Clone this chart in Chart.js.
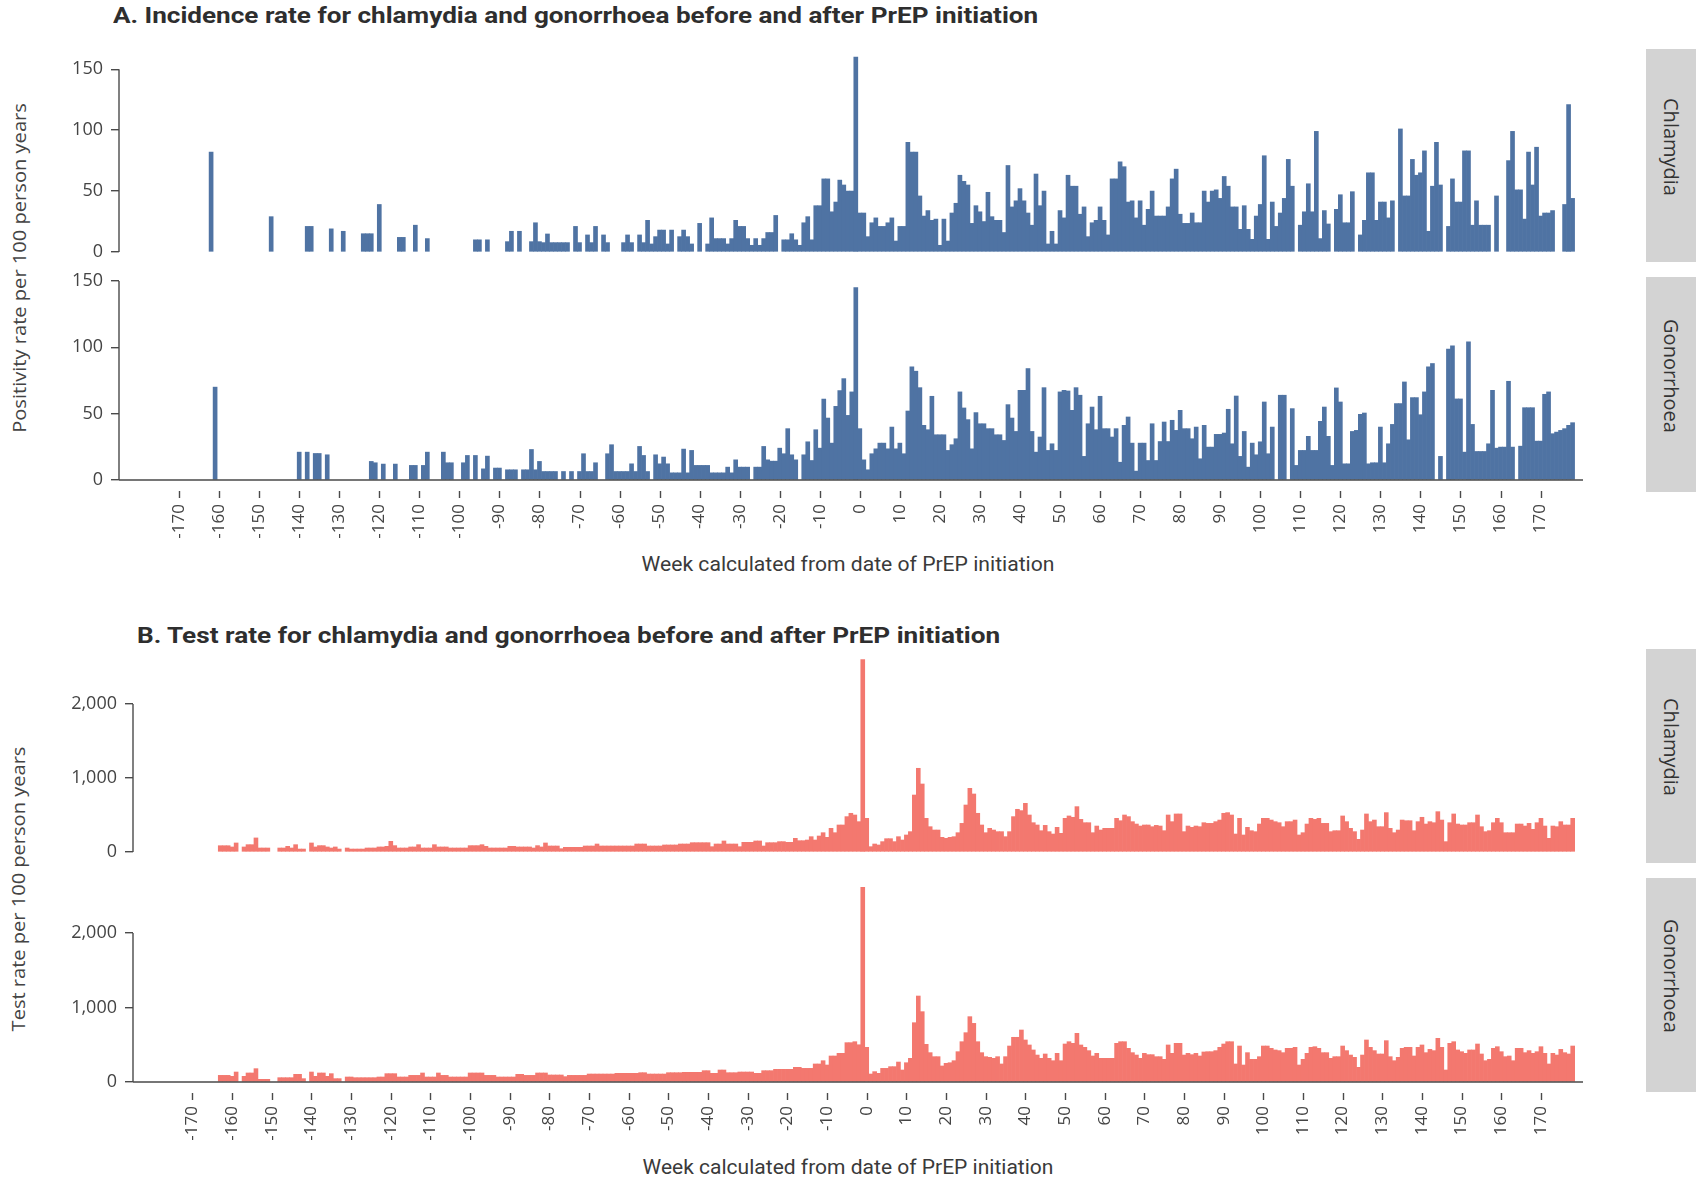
<!DOCTYPE html>
<html lang="en">
<head>
<meta charset="utf-8">
<title>Chlamydia and gonorrhoea before and after PrEP initiation</title>
<script src="https://cdn.jsdelivr.net/npm/chart.js@4.4.1/dist/chart.umd.min.js"></script>
<style>
  html, body { margin: 0; padding: 0; background: #fff; }
  #page { position: relative; width: 1696px; height: 1181px; overflow: hidden; background: #fff; }
  #page canvas { position: absolute; left: 0; }
  .title { position: absolute; white-space: nowrap; font: 700 22px/22px Roboto, sans-serif; color: #2e2e2e; transform-origin: 0 0; }
  .xtitle { position: absolute; white-space: nowrap; font: 400 20px/20px Roboto, sans-serif; color: #3a3a3a; transform-origin: 50% 0; }
  .ytitle { position: absolute; white-space: nowrap; font: 400 19px/19px 'Open Sans', sans-serif; color: #444; }
  .strip { position: absolute; left: 1646px; width: 50px; background: #d3d3d3; }
  .strip span { position: absolute; left: 50%; top: calc(50% - 9px); white-space: nowrap; font: 400 20px/20px 'Open Sans', sans-serif; color: #333;
                transform: translate(-50%, -50%) rotate(90deg); }
</style>
</head>
<body>
<div id="page">
  <div class="title" data-w="925" style="left:113px;top:5px">A. Incidence rate for chlamydia and gonorrhoea before and after PrEP initiation</div>
  <div class="title" data-w="863" style="left:137px;top:625px">B. Test rate for chlamydia and gonorrhoea before and after PrEP initiation</div>

  <div class="ytitle" data-w="330" style="left:19px;top:268px">Positivity rate per 100 person years</div>
  <div class="ytitle" data-w="285" style="left:18px;top:889px">Test rate per 100 person years</div>

  <div class="xtitle" data-w="413" style="left:848px;top:554px">Week calculated from date of PrEP initiation</div>
  <div class="xtitle" data-w="411" style="left:848px;top:1157px">Week calculated from date of PrEP initiation</div>

  <div class="strip" style="top:49px;height:213px"><span>Chlamydia</span></div>
  <div class="strip" style="top:277px;height:215px"><span>Gonorrhoea</span></div>
  <div class="strip" style="top:649px;height:214px"><span>Chlamydia</span></div>
  <div class="strip" style="top:878px;height:214px"><span>Gonorrhoea</span></div>
</div>

<script>
// ---- weeks relative to PrEP initiation -------------------------------------
const firstWeek = -163;
const lastWeek = 178;
const weeks = [];
for (let w = firstWeek; w <= lastWeek; w++) weeks.push(w);

const xTicks = [-170, -160, -150, -140, -130, -120, -110, -100, -90, -80, -70, -60, -50, -40, -30, -20, -10,
                0, 10, 20, 30, 40, 50, 60, 70, 80, 90, 100, 110, 120, 130, 140, 150, 160, 170];
const yTicksIncidence = [0, 50, 100, 150];
const yTicksTests = [0, 1000, 2000];

// ---- positivity rate per 100 person years (one value per week, null = none) ----
const chlamydiaIncidence = [
  /* -163 */ null, 82, null,
  /* -160 */ null, null, null, null, null, null, null, null, null, null,
  /* -150 */ null, null, null, 29, null, null, null, null, null, null,
  /* -140 */ null, null, 21, 21, null, null, null, null, 19, null,
  /* -130 */ null, 17, null, null, null, null, 15, 15, 15, null,
  /* -120 */ 39, null, null, null, null, 12, 12, null, null, 22,
  /* -110 */ null, null, 11, null, null, null, null, null, null, null,
  /* -100 */ null, null, null, null, 10, 10, null, 10, null, null,
  /*  -90 */ null, null, 8.5, 17, null, 17, null, null, 8.5, 24,
  /*  -80 */ 8.5, 7.7, 14.8, 7.7, 7.7, 7.7, 7.7, 7.7, null, 21,
  /*  -70 */ 7.7, null, 14, 7.7, 21, null, 14, 7.7, null, null,
  /*  -60 */ null, 7.7, 14, 7.7, null, 14, 7.7, 26, 6.6, 12.6,
  /*  -50 */ 18, 18, 6.6, 18, null, 12.6, 18, 12.6, 6.6, null,
  /*  -40 */ 23.5, null, 6.6, 28, 11, 11, 11, 6.6, 11, 26,
  /*  -30 */ 21, 21, 11, 5.5, 11, 5.5, 11, 16, 16, 30,
  /*  -20 */ null, 10, 10, 15, 10, 5.5, 24, 29, 10, 38,
  /*  -10 */ 38, 60, 60, 33, 41, 59, 55, 50, 50, 160,
  /*    0 */ 32, 32, 12.6, 24, 28, 21, 21, 24, 28, 9,
  /*   10 */ 21, 21, 90, 82, 82, 46, 29.5, 34, 26, 27,
  /*   20 */ 5.5, 27, 9, 32, 40, 63, 58, 55, 23.5, 38,
  /*   30 */ 33, 25, 49, 29, 26, 26, 16, 71, 37, 42,
  /*   40 */ 52, 42, 32, 22, 64, 38, 50, 6.6, 17, 6.6,
  /*   50 */ 34, 28, 63, 54, 54, 31, 37, 12.6, 24, 26,
  /*   60 */ 37, 26, 14, 60, 60, 74, 70, 41, 42, 28,
  /*   70 */ 42, 22, 35, 50, 29.5, 29.5, 29.5, 37, 60, 68,
  /*   80 */ 31, 23.5, 23.5, 32, 24, 24, 50, 41, 50, 51,
  /*   90 */ 44, 62, 54, 37, 37, 18.6, 38, 18.6, 10.4, 29.5,
  /*  100 */ 39, 79, 10.4, 41, 21, 32, 44, 76, 54, null,
  /*  110 */ 22, 33, 56, 33, 99, 11, 34, 23, null, 35,
  /*  120 */ 47, 24, 24, 49.5, null, 14, 26, 65, 65, 26,
  /*  130 */ 41, 41, 28, 42, null, 101, 46, 46, 76, 63,
  /*  140 */ 65, 83, 17, 54, 90, 55, null, 21, 60, 41,
  /*  150 */ 41, 83, 83, 22, 42, 22, 22, 22, null, 46,
  /*  160 */ null, null, 75, 99, 51, 51, 27, 82, 55, 86,
  /*  170 */ 29.5, 32, 32, 34, null, null, 39, 121, 44
];

const gonorrhoeaIncidence = [
  /* -163 */ null, null, 70,
  /* -160 */ null, null, null, null, null, null, null, null, null, null,
  /* -150 */ null, null, null, null, null, null, null, null, null, null,
  /* -140 */ 21, null, 21, null, 20, 20, null, 19, null, null,
  /* -130 */ null, null, null, null, null, null, null, null, 14, 13,
  /* -120 */ null, 12, null, null, 12, null, null, null, 11, 11,
  /* -110 */ null, 11, 21, null, null, null, 21, 13, 13, null,
  /* -100 */ null, 13, 18.5, null, 18.5, null, 8.4, 18, null, 9,
  /*  -90 */ 9, null, 7.7, 7.7, 7.7, null, 7.7, 7.7, 23, 7.7,
  /*  -80 */ 14, 6.4, 6.4, 6.4, 6.4, null, 6.4, null, 6.4, null,
  /*  -70 */ 6.4, 19.8, 6.4, 6.4, 13, null, null, 19.8, 26.6, 6.4,
  /*  -60 */ 6.4, 6.4, 6.4, 12.2, 6.4, 25.3, 18.5, 6.4, null, 19,
  /*  -50 */ 12.2, 17.3, 12.2, 5.4, 5.4, 5.4, 23.3, 5.4, 22.3, 11,
  /*  -40 */ 11, 11, 11, 5.4, 5.4, 5.4, 5.4, 9.7, 5.4, 15.2,
  /*  -30 */ 9.7, 9.7, 9.7, null, 9.7, 9.7, 25.3, 15.2, 14.2, 14.2,
  /*  -20 */ 24, 19.8, 38.7, 19, 15.2, null, 19, 28.8, 14.7, 37.9,
  /*  -10 */ 24, 61, 46.7, 27.8, 55.5, 67.4, 76.4, 48.7, 66.4, 145,
  /*    0 */ 38.7, 15.2, 7.7, 19.8, 23.5, 27.8, 27.8, 23.5, 39.9, 23.5,
  /*   10 */ 27.8, 19.8, 52, 85.3, 82, 69.6, 41.2, 37.9, 63.1, 34.1,
  /*   20 */ 34.1, 34.1, 22.3, 26.6, 31.1, 66.4, 54.3, 45.5, 23.5, 50.8,
  /*   30 */ 42.4, 42.4, 38.7, 38.7, 34.1, 34.1, 29.8, 56.8, 46.7, 36.6,
  /*   40 */ 67.6, 67.6, 84, 36.6, 21, 32.4, 69.6, 22.3, 27.3, 22.3,
  /*   50 */ 66.4, 67.6, 67.1, 52.5, 69.6, 63.9, 17.8, 42.4, 55, 37.9,
  /*   60 */ 63.1, 38.7, 38.7, 32.4, 38.7, 13.4, 41.2, 47.5, 27.8, 6.7,
  /*   70 */ 27.8, 27.8, 14.7, 42.4, 14.7, 29, 43.7, 29, 45, 37.4,
  /*   80 */ 52.5, 38.7, 38.7, 31.1, 39.9, 16, 41.2, 24.8, 24.8, 34.4,
  /*   90 */ 34.4, 35.4, 53.3, 27.3, 63.3, 17.8, 36.6, 9.7, 27.8, 19,
  /*  100 */ 28.8, 58.8, 19.8, 39.9, null, 63.9, 63.9, null, 53.8, 11,
  /*  110 */ 22.3, 22.3, 32.9, 22.3, 22.3, 44.2, 55, 32.9, 11, 69.4,
  /*  120 */ 58.8, 12.2, 12.2, 36.6, 37.4, 49.5, 50.5, 12.2, 13, 13,
  /*  130 */ 39.9, 13, 27.3, 41.9, 57.6, 57.6, 73.9, 30.3, 62.1, 62.1,
  /*  140 */ 49.2, 66.4, 85.3, 87.8, null, 17.8, null, 98.6, 101.1, 61.1,
  /*  150 */ 61.1, 21, 104.2, 41.9, 21.5, 21.5, 21.5, 27.3, 67.6, 24,
  /*  160 */ 24.8, 24.8, 74.4, 24.8, null, 25.5, 54.5, 54.5, 54.5, 29.3,
  /*  170 */ 29.3, 64.6, 66.4, 34.9, 36.1, 37.4, 38.7, 41.2, 43.2
];

// ---- test rate per 100 person years ----------------------------------------
const chlamydiaTests = [
  /* -163 */ 85, 85, 85,
  /* -160 */ 68, 122, null, 68, 99, 99, 190, 54, 54, 54,
  /* -150 */ null, null, 54, 54, 77, 54, 99, 40, 40, null,
  /* -140 */ 122, 68, 86, 86, 68, 54, 68, 40, null, 54,
  /* -130 */ 40, 40, 40, 40, 54, 54, 54, 68, 68, 77,
  /* -120 */ 144, 86, 54, 54, 54, 68, 68, 99, 54, 54,
  /* -110 */ 54, 99, 68, 68, 68, 54, 54, 54, 54, 54,
  /* -100 */ 86, 86, 86, 99, 77, 54, 54, 54, 54, 54,
  /*  -90 */ 77, 77, 68, 68, 68, 68, 54, 86, 68, 122,
  /*  -80 */ 81, 81, 81, 45, 63, 63, 63, 63, 63, 81,
  /*  -70 */ 81, 81, 108, 81, 81, 81, 81, 81, 81, 81,
  /*  -60 */ 81, 81, 108, 108, 108, 81, 81, 81, 81, 95,
  /*  -50 */ 95, 95, 95, 108, 108, 108, 126, 126, 126, 126,
  /*  -40 */ 126, 72, 108, 108, 149, 108, 108, 108, 72, 131,
  /*  -30 */ 131, 131, 149, 149, 81, 126, 126, 126, 140, 140,
  /*  -20 */ 131, 131, 185, 153, 153, 162, 207, 162, 216, 261,
  /*  -10 */ 198, 320, 261, 365, 365, 478, 523, 500, 410, 2600,
  /*    0 */ 455, 72, 108, 95, 140, 180, 180, 140, 207, 162,
  /*   10 */ 230, 275, 770, 1131, 919, 455, 342, 297, 297, 198,
  /*   20 */ 185, 198, 207, 261, 387, 635, 860, 784, 523, 365,
  /*   30 */ 261, 320, 297, 275, 275, 207, 275, 478, 577, 559,
  /*   40 */ 658, 500, 396, 365, 288, 360, 275, 243, 333, 252,
  /*   50 */ 455, 487, 469, 613, 441, 396, 396, 261, 351, 297,
  /*   60 */ 320, 320, 320, 455, 423, 500, 478, 410, 378, 351,
  /*   70 */ 365, 365, 342, 360, 351, 288, 500, 410, 514, 514,
  /*   80 */ 275, 351, 333, 351, 342, 396, 387, 387, 410, 432,
  /*   90 */ 523, 532, 500, 243, 455, 230, 333, 288, 275, 378,
  /*  100 */ 455, 455, 432, 410, 396, 342, 410, 410, 432, 230,
  /*  110 */ 261, 378, 455, 441, 455, 387, 387, 275, 288, 288,
  /*  120 */ 487, 410, 320, 275, 171, 297, 514, 410, 432, 342,
  /*  130 */ 342, 532, 320, 261, 297, 432, 423, 423, 288, 410,
  /*  140 */ 469, 378, 410, 396, 545, 432, 140, 396, 514, 378,
  /*  150 */ 365, 365, 396, 396, 500, 342, 275, 288, 396, 455,
  /*  160 */ 396, 261, 261, 261, 378, 378, 351, 387, 306, 396,
  /*  170 */ 455, 351, 185, 351, 342, 410, 365, 365, 455
];

const gonorrhoeaTests = [
  /* -163 */ 89, 89, 89,
  /* -160 */ 76, 134, null, 76, 121, 121, 179, 36, 36, 36,
  /* -150 */ null, null, 58, 58, 58, 58, 103, 103, 45, null,
  /* -140 */ 134, 76, 121, 121, 76, 112, 45, 45, null, 67,
  /* -130 */ 67, 58, 58, 58, 58, 58, 58, 67, 67, 112,
  /* -120 */ 112, 112, 67, 67, 67, 89, 89, 89, 121, 67,
  /* -110 */ 67, 67, 121, 89, 89, 67, 67, 67, 67, 67,
  /* -100 */ 121, 121, 121, 121, 89, 89, 89, 67, 67, 67,
  /*  -90 */ 67, 67, 103, 103, 89, 89, 89, 121, 121, 121,
  /*  -80 */ 94, 94, 94, 94, 72, 89, 89, 89, 89, 89,
  /*  -70 */ 107, 107, 107, 107, 107, 107, 107, 116, 116, 116,
  /*  -60 */ 116, 116, 116, 125, 125, 107, 107, 107, 107, 107,
  /*  -50 */ 125, 125, 125, 125, 130, 130, 130, 130, 130, 152,
  /*  -40 */ 152, 116, 116, 161, 161, 125, 125, 125, 134, 134,
  /*  -30 */ 134, 134, 116, 116, 152, 152, 152, 170, 170, 170,
  /*  -20 */ 170, 170, 197, 197, 183, 183, 183, 242, 242, 286,
  /*  -10 */ 228, 349, 349, 385, 385, 528, 528, 541, 500, 2613,
  /*    0 */ 465, 107, 139, 116, 183, 183, 206, 206, 268, 161,
  /*   10 */ 259, 318, 796, 1154, 944, 506, 394, 340, 340, 215,
  /*   20 */ 251, 259, 286, 407, 541, 662, 877, 787, 541, 394,
  /*   30 */ 340, 331, 318, 340, 242, 340, 483, 600, 600, 698,
  /*   40 */ 564, 497, 430, 362, 318, 376, 318, 286, 385, 286,
  /*   50 */ 510, 541, 519, 653, 497, 465, 421, 349, 385, 318,
  /*   60 */ 318, 318, 318, 519, 541, 541, 452, 394, 362, 318,
  /*   70 */ 385, 367, 367, 340, 340, 304, 497, 385, 519, 519,
  /*   80 */ 362, 385, 367, 385, 349, 403, 407, 407, 421, 465,
  /*   90 */ 510, 541, 541, 242, 483, 228, 394, 304, 304, 340,
  /*  100 */ 483, 483, 452, 430, 421, 394, 452, 452, 465, 228,
  /*  110 */ 304, 385, 465, 474, 452, 394, 394, 318, 340, 340,
  /*  120 */ 483, 421, 362, 331, 197, 362, 564, 465, 421, 376,
  /*  130 */ 376, 555, 340, 286, 331, 452, 465, 465, 349, 465,
  /*  140 */ 497, 394, 438, 421, 586, 465, 161, 519, 541, 430,
  /*  150 */ 407, 385, 430, 430, 510, 376, 286, 304, 452, 474,
  /*  160 */ 407, 340, 349, 286, 452, 452, 394, 421, 385, 407,
  /*  170 */ 474, 385, 242, 385, 362, 438, 394, 376, 483
];

// ---- drawing -----------------------------------------------------------------
const BLUE = '#4f73a3';
const RED = '#f3786f';
const AXIS = '#4a4a4a';
const weekMin = -185, weekMax = 180.6;

Chart.defaults.font.family = "'Open Sans', 'DejaVu Sans', sans-serif";
Chart.defaults.color = '#444';

// Axis lines that stop at the last labelled tick, plus detached x tick marks.
const axisLines = {
  id: 'axisLines',
  afterDraw(chart, args, opts) {
    const { ctx, chartArea } = chart;
    const xs = chart.scales.x, ys = chart.scales.y;
    const y0 = ys.getPixelForValue(0);
    const yTop = ys.getPixelForValue(opts.yTop);
    ctx.save();
    ctx.strokeStyle = AXIS;
    ctx.lineWidth = 1.4;
    ctx.beginPath();
    ctx.moveTo(chartArea.left, y0);
    ctx.lineTo(chartArea.left, yTop);
    if (opts.xAxis) {
      ctx.moveTo(chartArea.left, y0);
      ctx.lineTo(chartArea.right, y0);
      xTicks.forEach(v => {
        const px = Math.round(xs.getPixelForValue(v)) + 0.5;
        ctx.moveTo(px, y0 + 11);
        ctx.lineTo(px, y0 + 18);
      });
    }
    ctx.stroke();
    ctx.restore();
  }
};

const panels = [
  { values: chlamydiaIncidence,  color: BLUE, top: 49,  bottom: 252,  yMax: 166.6, yTicks: yTicksIncidence, axisWidth: 119, showX: false },
  { values: gonorrhoeaIncidence, color: BLUE, top: 277, bottom: 480,  yMax: 153.0, yTicks: yTicksIncidence, axisWidth: 119, showX: true },
  { values: chlamydiaTests,      color: RED,  top: 649, bottom: 852,  yMax: 2743,  yTicks: yTicksTests,     axisWidth: 133, showX: false },
  { values: gonorrhoeaTests,     color: RED,  top: 878, bottom: 1082, yMax: 2738,  yTicks: yTicksTests,     axisWidth: 133, showX: true }
];

const page = document.getElementById('page');
const PAD_TOP = 20, PAD_BOTTOM = 20, X_AXIS_H = 95, RIGHT_PAD = 113;

panels.forEach(p => {
  if (p.values.length !== weeks.length) console.error('series length', p.values.length, 'expected', weeks.length);
  const canvas = document.createElement('canvas');
  const h = PAD_TOP + (p.bottom - p.top) + (p.showX ? X_AXIS_H : PAD_BOTTOM);
  canvas.width = 1696;
  canvas.height = h;
  canvas.style.top = (p.top - PAD_TOP) + 'px';
  canvas.style.width = '1696px';
  canvas.style.height = h + 'px';
  page.appendChild(canvas);

  new Chart(canvas, {
    type: 'bar',
    data: {
      datasets: [{
        data: weeks.map((w, i) => ({ x: w, y: p.values[i] })),
        backgroundColor: p.color,
        borderWidth: 0,
        barPercentage: 1,
        categoryPercentage: 1
      }]
    },
    options: {
      responsive: false,
      maintainAspectRatio: false,
      animation: false,
      layout: { padding: { left: 0, right: RIGHT_PAD, top: PAD_TOP, bottom: p.showX ? 0 : PAD_BOTTOM } },
      plugins: {
        legend: { display: false },
        tooltip: { enabled: false },
        axisLines: { yTop: p.yTicks[p.yTicks.length - 1], xAxis: p.showX }
      },
      scales: {
        x: {
          type: 'linear',
          min: weekMin,
          max: weekMax,
          offset: false,
          display: p.showX,
          afterBuildTicks: s => { s.ticks = xTicks.map(v => ({ value: v })); },
          afterFit: s => { s.height = p.showX ? X_AXIS_H : 0; },
          grid: { display: false, drawTicks: false },
          border: { display: false },
          ticks: {
            autoSkip: false, minRotation: 90, maxRotation: 90, padding: 24,
            color: '#444', font: { size: 17 },
            callback: v => String(v)
          }
        },
        y: {
          type: 'linear',
          min: 0,
          max: p.yMax,
          position: 'left',
          afterBuildTicks: s => { s.ticks = p.yTicks.map(v => ({ value: v })); },
          afterFit: s => { s.width = p.axisWidth; },
          grid: { display: true, drawOnChartArea: false, drawTicks: true, tickLength: 8, color: AXIS, lineWidth: 1.4 },
          border: { display: false },
          ticks: {
            padding: 8, color: '#444', font: { size: 18 },
            callback: v => v.toLocaleString('en-US')
          }
        }
      }
    },
    plugins: [axisLines]
  });
});

// Fit the HTML titles to their measured lengths.
function fitText() {
  document.querySelectorAll('[data-w]').forEach(el => {
    const k = (+el.dataset.w) / el.offsetWidth;
    if (el.classList.contains('title')) {
      el.style.transform = 'scaleX(' + k + ')';
    } else if (el.classList.contains('xtitle')) {
      el.style.transform = 'translateX(-50%) scaleX(' + k + ')';
    } else {
      el.style.transform = 'translate(-50%, -50%) rotate(-90deg) scaleX(' + k + ')';
    }
  });
}
fitText();
if (document.fonts && document.fonts.ready) document.fonts.ready.then(fitText);
</script>
</body>
</html>
